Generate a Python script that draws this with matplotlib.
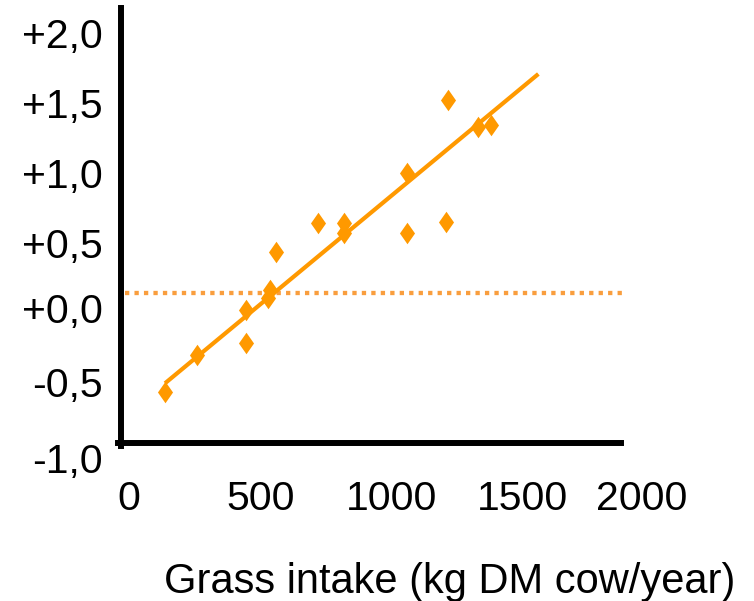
import numpy as np
import matplotlib
matplotlib.use('Agg')
import matplotlib.pyplot as plt

plt.rcParams['font.family'] = ['Liberation Sans', 'DejaVu Sans']

# Data
grass_intake = [137, 258, 446, 446, 537, 531, 560, 722, 820, 820, 1059, 1061, 1209, 1217, 1332, 1379]
response = [-0.647, -0.393, -0.083, -0.308, 0.055, -0.002, 0.319, 0.515, 0.515, 0.446,
            0.864, 0.446, 0.526, 1.366, 1.181, 1.193]

# Fitted line end points
fit_x = [137, 1561]
fit_y = [-0.588, 1.545]

# Dotted reference level
ref_level = 0.034
ref_start, ref_end = -16, 1899

# Tick labels (placed where they sit in the picture)
xtick_pos = [0, 500, 1000, 1500, 1956]
xtick_labels = ['0', '500', '1000', '1500', '2000']
ytick_pos = [1.828, 1.345, 0.862, 0.379, -0.069, -0.579, -1.103]
ytick_labels = ['+2,0', '+1,5', '+1,0', '+0,5', '+0,0', '-0,5', '-1,0']
ygrid_marks = [-0.5, 0.0, 0.5, 1.0, 1.5]

orange = '#FF9900'
light_orange = '#F99E3E'

fig = plt.figure(figsize=(7.54, 6.01), dpi=100)
ax = fig.add_axes([121 / 754, (601 - 472) / 601, (660 - 121) / 754, (472 - 8) / 601])
ax.set_xlim(-31, 2025)
ax.set_ylim(-1.2, 2.0)

ax.hlines(ref_level, ref_start, ref_end, colors=light_orange, linewidth=3.1,
          linestyles=(0, (1.0, 1.2)), zorder=2, clip_on=False)
ax.plot(fit_x, fit_y, color=orange, linewidth=3, solid_capstyle='butt', zorder=3)
diamond = [(0, 1), (0.7, 0), (0, -1), (-0.7, 0), (0, 1)]
ax.plot(grass_intake, response, linestyle='none', marker=diamond, markersize=15.5,
        color=orange, markeredgewidth=0, zorder=4)

# Spines
for side in ['top', 'right']:
    ax.spines[side].set_visible(False)
ax.spines['bottom'].set_position(('data', -1.0))
ax.spines['bottom'].set_bounds(-42, 1876)
ax.spines['left'].set_bounds(-1.02, 2.0)
for side in ['left', 'bottom']:
    ax.spines[side].set_linewidth(4.3)
    ax.spines[side].set_color('black')

# Ticks
ax.set_xticks(xtick_pos, xtick_labels)
ax.tick_params(axis='x', length=0, pad=27, labelsize=29.5)
ax.set_yticks(ygrid_marks)
ax.tick_params(axis='y', which='major', direction='out', length=2.2, width=0.8,
               color='white', labelleft=False)
ax.set_yticks(ytick_pos, ytick_labels, minor=True)
ax.tick_params(axis='y', which='minor', length=0, pad=13, labelsize=29.5)

ax.set_xlabel('Grass intake (kg DM cow/year)', fontsize=30)
ax.xaxis.set_label_coords((450 - 121) / 539, (472 - 562) / 464)

fig.savefig('out.png', dpi=100)
